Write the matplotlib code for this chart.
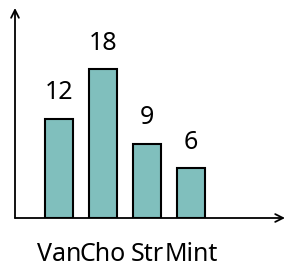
import matplotlib
matplotlib.use("Agg")
import matplotlib.pyplot as plt

categories = ["Van", "Cho", "Str", "Mint"]
values = [12, 18, 9, 6]

plt.rcParams['font.family'] = ['Noto Sans', 'DejaVu Sans']

W, H, DPI = 287, 267, 100
fig = plt.figure(figsize=(W / DPI, H / DPI), dpi=DPI)

# axes origin at pixel (15, 218), arrows to x=285 and y=8
ax = fig.add_axes([15 / W, (H - 218) / H, (285 - 15) / W, (218 - 8) / H])
ax.set_xlim(-1.0, 5.136)
ax.set_ylim(0, 25.45)

xs = list(range(len(categories)))
ax.bar(xs, values, width=0.636, color="#80bfbd", edgecolor="black", linewidth=1.5, zorder=2)

for x, v in zip(xs, values):
    ax.annotate(str(v), (x, v), xytext=(0, 19), textcoords="offset points",
                ha="center", va="center", fontsize=18)

ax.set_xticks(xs)
ax.set_xticklabels(categories, fontsize=18)
ax.tick_params(axis="x", length=0, pad=17)
ax.set_yticks([])

for s in ax.spines.values():
    s.set_visible(False)

arrow = dict(arrowstyle="->", color="black", lw=1.3, mutation_scale=14, shrinkA=0, shrinkB=0)
ax.annotate("", xy=(1, 0), xytext=(0, 0), xycoords="axes fraction", arrowprops=arrow)
ax.annotate("", xy=(0, 1), xytext=(0, 0), xycoords="axes fraction", arrowprops=arrow)

fig.savefig("out.png", dpi=DPI)
